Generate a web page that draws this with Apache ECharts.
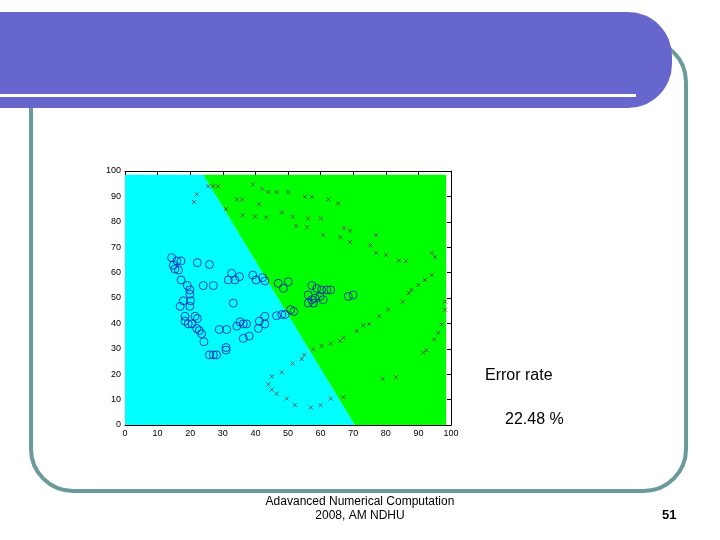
<!DOCTYPE html>
<html>
<head>
<meta charset="utf-8">
<script src="https://cdn.jsdelivr.net/npm/echarts@6/dist/echarts.min.js"></script>
<style>
  html, body { margin: 0; padding: 0; background: #fff; }
  #chart { width: 720px; height: 540px; }
</style>
</head>
<body>
<div id="chart"></div>
<script>
// decision regions (polygon corners, data units)
const cyanRegion = [[0, 0], [70.5, 0], [24, 98.5], [0, 98.5]];
const greenRegion = [[70.5, 0], [98.5, 0], [98.5, 98.5], [24, 98.5]];

// class 1 samples (circles)
const circlePts = [
  [14.3, 65.9], [15.9, 64.6], [17.2, 64.6], [14.8, 62.9], [15.3, 61.4], [16.4, 61.0],
  [22.2, 63.9], [25.9, 63.2],
  [17.2, 57.1], [19.1, 54.9], [19.9, 53.2], [19.9, 51.5],
  [24.0, 54.9], [27.1, 54.9],
  [32.7, 59.7], [31.7, 57.1], [33.7, 57.1], [35.1, 58.4],
  [39.2, 59.0], [40.2, 57.1], [42.2, 58.0], [42.9, 56.7],
  [47.0, 55.8], [50.1, 56.4], [48.6, 53.8],
  [17.9, 48.9], [20.1, 48.9], [16.9, 46.7], [19.9, 46.7],
  [18.4, 42.8], [18.4, 40.9], [21.5, 42.8], [22.2, 41.9], [19.4, 39.8], [20.5, 39.8],
  [22.0, 38.0], [22.8, 37.2], [23.5, 35.9], [24.2, 32.8],
  [25.9, 27.6], [27.1, 27.6], [28.1, 27.6], [31.0, 30.5], [31.0, 29.5],
  [28.9, 37.6], [31.2, 37.6], [33.2, 48.0],
  [34.3, 38.9], [35.3, 40.6], [36.3, 39.8], [37.3, 39.8], [36.3, 34.1], [38.1, 35.0],
  [40.9, 38.0], [41.2, 40.9], [42.9, 42.8], [42.9, 39.8], [46.5, 43.0],
  [48.1, 43.5], [49.1, 43.5], [50.8, 45.4], [51.8, 44.7],
  [56.2, 51.2], [57.3, 49.3], [58.3, 49.9], [59.8, 50.6], [60.8, 49.3], [56.2, 48.0], [57.8, 48.0],
  [57.3, 54.9], [58.8, 53.8], [60.3, 53.2], [61.9, 53.2], [63.1, 53.2],
  [68.5, 50.6], [70.0, 51.2]
];

// class 2 samples (crosses)
const crossPts = [
  [25.5, 94], [27, 94], [28.5, 94], [22, 90.8], [21.2, 87.8],
  [39.2, 94.7], [42.1, 93], [44, 91.7], [46.5, 91.7], [50.1, 91.7],
  [34.3, 88.8], [36, 88.8], [41.1, 86.9], [31, 85], [36.1, 82.6], [39.9, 82.1], [43.3, 81.7],
  [55.2, 89.8], [57.3, 89.8], [62.4, 88.8], [65.4, 87.2],
  [48.1, 83.7], [51.4, 82], [56.2, 81.3], [60, 81.3],
  [52.5, 78.4], [55.9, 77.8], [60.8, 74.8], [67.2, 77.5], [69, 76.5], [66.1, 73.9], [69, 72],
  [77, 74.8], [75.3, 70.7], [77, 67.8], [80.1, 67], [84.1, 64.8], [86.2, 64.5],
  [94.1, 67.8], [95.1, 66.1], [94.1, 59], [92, 57.1], [90, 55.1], [87.9, 53.2], [87.1, 51.9],
  [98.2, 48.6], [98.2, 45.4], [85.2, 48.6], [80.8, 45.4], [78, 42.8], [74.9, 39.8], [73.1, 39.2], [71.1, 37],
  [67, 34.4], [66, 33.1], [63.1, 32], [60.3, 31.1], [57.8, 29.8], [55, 27.6], [54.2, 26], [51.4, 24.2], [48.1, 20.7],
  [45, 19.1], [44, 16], [45, 13.9], [46.5, 12.3], [49.6, 10.4], [52.1, 7.8], [57, 6.9], [60, 7.8], [63.1, 10.4], [67, 11],
  [79, 18.2], [83.1, 18.8], [91.5, 28.5], [92.5, 29.4], [94.8, 33.7], [96.1, 36.3], [97.1, 39.6]
];

const errorRate = '22.48 %';

let myChart = echarts.init(document.getElementById('chart'));

function regionSeries(pts, color) {
  return {
    type: 'custom',
    data: pts,
    silent: true,
    z: 1,
    renderItem: function (params, api) {
      if (params.dataIndex !== 0) return; // draw the polygon once
      return {
        type: 'polygon',
        shape: { points: pts.map(p => api.coord(p)) },
        style: { fill: color }
      };
    }
  };
}

const labelFont = { color: '#000', fontSize: 9, fontFamily: 'Liberation Sans, Arial' };
const frameLine = { show: true, onZero: false, lineStyle: { color: '#000', width: 1 } };

let option = {
  backgroundColor: '#fff',
  animation: false,
  grid: { left: 125, right: 269, top: 171, bottom: 115, containLabel: false },
  xAxis: [
    {
      type: 'value', min: 0, max: 100, interval: 10, z: 5,
      axisLine: frameLine,
      axisTick: { show: false },
      splitLine: { show: false },
      axisLabel: Object.assign({ margin: 4 }, labelFont)
    },
    {
      type: 'value', min: 0, max: 100, interval: 10, position: 'top', z: 5,
      axisLine: frameLine,
      axisTick: { show: true, inside: true, length: 4, lineStyle: { color: '#000' } },
      splitLine: { show: false },
      axisLabel: { show: false }
    }
  ],
  yAxis: [
    {
      type: 'value', min: 0, max: 100, interval: 10,
      axisLine: { show: false, onZero: false },
      axisTick: { show: false },
      splitLine: { show: false },
      axisLabel: Object.assign({ margin: 4 }, labelFont)
    },
    {
      type: 'value', min: 0, max: 100, interval: 10, position: 'right', z: 5,
      axisLine: frameLine,
      axisTick: { show: true, inside: true, length: 4, lineStyle: { color: '#000' } },
      splitLine: { show: false },
      axisLabel: { show: false }
    }
  ],
  series: [
    regionSeries(cyanRegion, '#00ffff'),
    regionSeries(greenRegion, '#00ff00'),
    {
      type: 'scatter',
      data: circlePts,
      symbol: 'circle',
      symbolSize: 8,
      z: 3,
      itemStyle: { color: 'rgba(0,0,0,0)', borderColor: '#1414b4', borderWidth: 1 }
    },
    {
      type: 'scatter',
      data: crossPts,
      symbol: 'path://M0,0L10,10M10,0L0,10',
      symbolSize: 4,
      z: 3,
      itemStyle: { color: 'rgba(0,0,0,0)', borderColor: '#5a3a3a', borderWidth: 1 }
    }
  ],
  graphic: [
    // teal frame
    {
      type: 'rect', z: -10,
      shape: { x: 31, y: 40, width: 655, height: 451, r: 42 },
      style: { fill: null, stroke: '#6a9a9a', lineWidth: 4 }
    },
    // banner
    {
      type: 'rect', z: -5,
      shape: { x: -30, y: 12, width: 702, height: 96, r: [0, 44, 44, 0] },
      style: { fill: '#6666cc' }
    },
    {
      type: 'rect', z: -4,
      shape: { x: 0, y: 94, width: 636, height: 3 },
      style: { fill: '#ffffff' }
    },
    {
      type: 'text', left: 485, top: 368,
      style: { text: 'Error rate', fill: '#000', font: '16px "Liberation Sans", Arial' }
    },
    {
      type: 'text', left: 505, top: 412,
      style: { text: errorRate, fill: '#000', font: '16px "Liberation Sans", Arial' }
    },
    {
      type: 'text', x: 360, y: 496,
      style: {
        text: 'Adavanced Numerical Computation', fill: '#000', align: 'center',
        font: '12px "Liberation Sans", Arial'
      }
    },
    {
      type: 'text', x: 360, y: 510,
      style: {
        text: '2008, AM NDHU', fill: '#000', align: 'center',
        font: '12px "Liberation Sans", Arial'
      }
    },
    {
      type: 'text', left: 662, top: 509,
      style: { text: '51', fill: '#000', font: 'bold 13px "Liberation Sans", Arial' }
    }
  ]
};

myChart.setOption(option);
window.addEventListener('resize', function () {
  myChart.resize();
});
</script>
</body>
</html>
